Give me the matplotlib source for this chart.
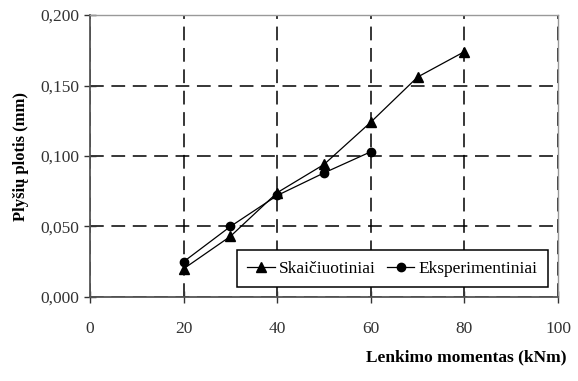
import matplotlib.pyplot as plt

moment_calc = [20, 30, 40, 50, 60, 70, 80]
crack_calc = [0.020, 0.043, 0.074, 0.094, 0.124, 0.156, 0.174]
moment_exp = [20, 30, 40, 50, 60]
crack_exp = [0.025, 0.050, 0.072, 0.088, 0.103]

xticks = [0, 20, 40, 60, 80, 100]
yticks = [0.0, 0.05, 0.10, 0.15, 0.20]
ytick_labels = ['0,000', '0,050', '0,100', '0,150', '0,200']

plt.rcParams['font.family'] = ['Liberation Serif', 'DejaVu Serif']

fig = plt.figure(figsize=(5.78, 3.81), dpi=100)
ax = fig.add_axes([0.1557, 0.2205, 0.8097, 0.7401])

ax.plot(moment_calc, crack_calc, color='black', lw=0.9, marker='^', ms=7,
        label='Skaičiuotiniai')
ax.plot(moment_exp, crack_exp, color='black', lw=0.9, marker='o', ms=6,
        label='Eksperimentiniai')

ax.set_xlim(0, 100)
ax.set_ylim(0, 0.2)
ax.set_xticks(xticks)
ax.set_yticks(yticks)
ax.set_yticklabels(ytick_labels)
ax.tick_params(direction='inout', length=8, width=1, labelsize=12.5, colors='#333333')
ax.tick_params(axis='x', pad=13)
ax.grid(True, color='black', linestyle=(0, (9, 5)), linewidth=1.1)

for side in ['left', 'bottom']:
    ax.spines[side].set_color('#555555')
    ax.spines[side].set_linewidth(1.3)
for side in ['top', 'right']:
    ax.spines[side].set_color('#999999')
    ax.spines[side].set_linewidth(1)

ax.set_ylabel('Plyšių plotis (mm)', fontsize=12, fontweight='bold', labelpad=8)
fig.text(0.98, 0.063, 'Lenkimo momentas (kNm)', fontsize=12.5, fontweight='bold',
         ha='right', va='center')

leg = ax.legend(loc='lower right', bbox_to_anchor=(0.979, 0.035), ncol=2,
                fontsize=12.5, frameon=True, fancybox=False, edgecolor='black',
                framealpha=1, handlelength=1.6, columnspacing=0.6,
                handletextpad=0.25, borderpad=0.6, borderaxespad=0)
leg.get_frame().set_linewidth(1.1)

fig.savefig('out.png', dpi=100)
